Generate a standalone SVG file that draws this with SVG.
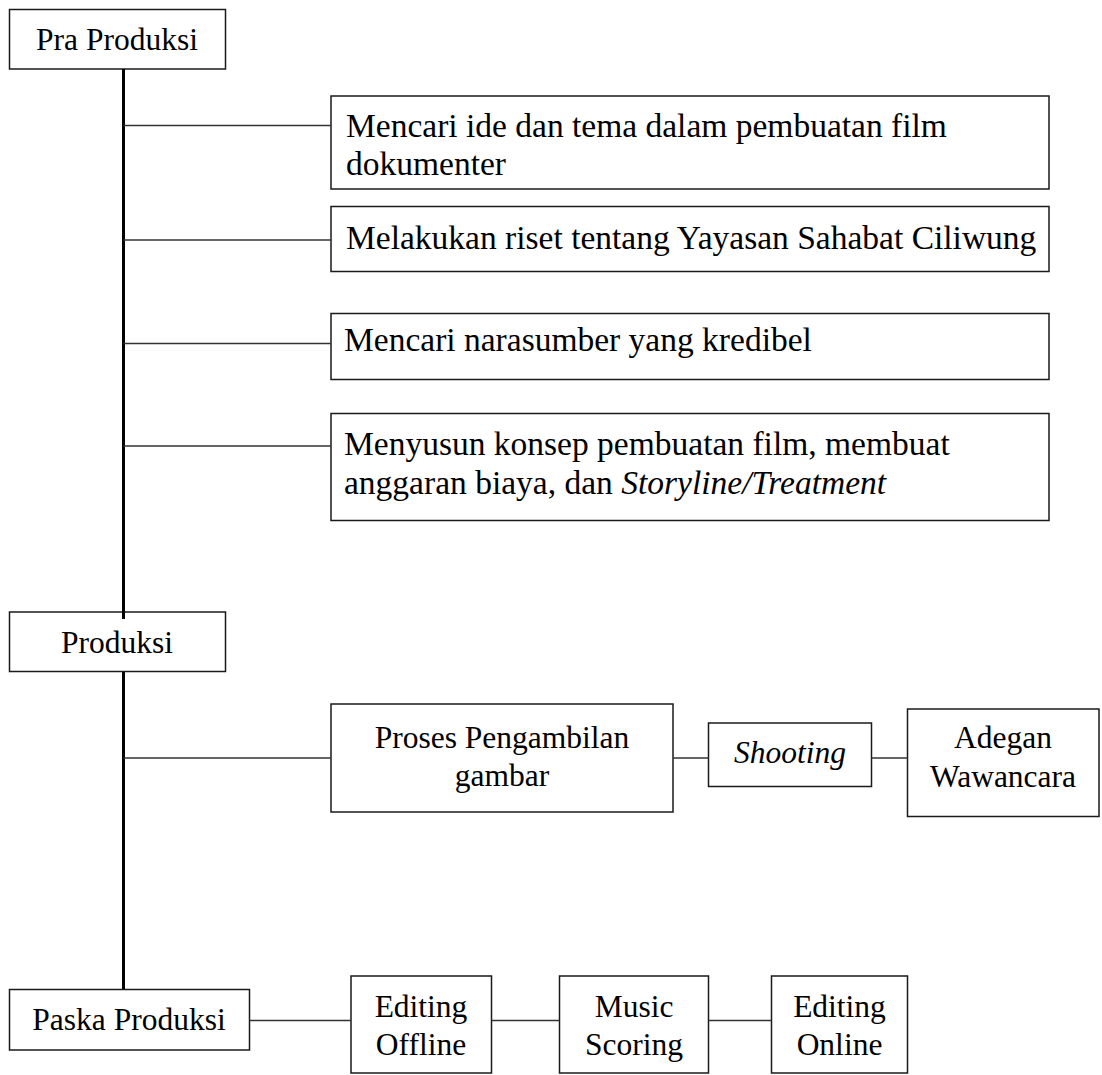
<svg xmlns="http://www.w3.org/2000/svg" width="1102" height="1075" viewBox="0 0 1102 1075">
  <style>
    .box { fill: #ffffff; stroke: #1a1a1a; stroke-width: 1.5; }
    .link { fill: none; stroke: #333333; stroke-width: 1.5; }
    .trunk { fill: none; stroke: #000000; stroke-width: 3; }
    text { font-family: "Liberation Serif", "Times New Roman", serif; font-size: 31.5px; fill: #000000; }
    .task { font-size: 33.5px; }
    .c { text-anchor: middle; }
    .i { font-style: italic; }
  </style>
  <rect width="1102" height="1075" fill="#ffffff"/>

  <!-- stage headers -->
  <g id="pra-produksi">
    <rect class="box" x="9.5" y="9.5" width="216" height="59.5"/>
    <text class="c" x="117" y="50">Pra Produksi</text>
  </g>
  <g id="produksi">
    <rect class="box" x="9.5" y="612" width="216" height="59.5"/>
    <text class="c" x="117" y="653">Produksi</text>
  </g>
  <g id="paska-produksi">
    <rect class="box" x="9.5" y="989.5" width="240" height="60.5"/>
    <text class="c" x="129" y="1030">Paska Produksi</text>
  </g>

  <!-- pre-production tasks -->
  <g id="ide-tema">
    <rect class="box" x="331" y="96" width="718" height="93"/>
    <text class="task" x="346" y="137">Mencari ide dan tema dalam pembuatan film</text>
    <text class="task" x="346" y="175">dokumenter</text>
  </g>
  <g id="riset">
    <rect class="box" x="331" y="206.5" width="718" height="65"/>
    <text class="task" x="346" y="249">Melakukan riset tentang Yayasan Sahabat Ciliwung</text>
  </g>
  <g id="narasumber">
    <rect class="box" x="331" y="313.5" width="718" height="66"/>
    <text class="task" x="344" y="351">Mencari narasumber yang kredibel</text>
  </g>
  <g id="konsep">
    <rect class="box" x="331" y="413.5" width="718" height="107"/>
    <text class="task" x="344" y="455">Menyusun konsep pembuatan film, membuat</text>
    <text class="task" x="344" y="494">anggaran biaya, dan <tspan class="i">Storyline/Treatment</tspan></text>
  </g>

  <!-- production chain -->
  <g id="pengambilan-gambar">
    <rect class="box" x="331" y="704" width="342" height="108"/>
    <text class="c" x="502" y="748">Proses Pengambilan</text>
    <text class="c" x="502" y="786">gambar</text>
  </g>
  <g id="shooting">
    <rect class="box" x="708.5" y="723" width="163" height="63.5"/>
    <text class="c i" x="790" y="763">Shooting</text>
  </g>
  <g id="adegan-wawancara">
    <rect class="box" x="907.5" y="709" width="191.5" height="107.5"/>
    <text class="c" x="1003" y="748">Adegan</text>
    <text class="c" x="1003" y="787">Wawancara</text>
  </g>

  <!-- post-production chain -->
  <g id="editing-offline">
    <rect class="box" x="351" y="976" width="140.5" height="97"/>
    <text class="c" x="421" y="1017">Editing</text>
    <text class="c" x="421" y="1055">Offline</text>
  </g>
  <g id="music-scoring">
    <rect class="box" x="559.5" y="976" width="149" height="97"/>
    <text class="c" x="634" y="1017">Music</text>
    <text class="c" x="634" y="1055">Scoring</text>
  </g>
  <g id="editing-online">
    <rect class="box" x="771.5" y="976" width="136" height="97"/>
    <text class="c" x="839.5" y="1017">Editing</text>
    <text class="c" x="839.5" y="1055">Online</text>
  </g>

  <!-- connectors -->
  <g id="connectors">
    <line class="trunk" x1="123.5" y1="69" x2="123.5" y2="619"/>
    <line class="trunk" x1="123.5" y1="672" x2="123.5" y2="989"/>
    <line class="link" x1="123.5" y1="125.5" x2="331" y2="125.5"/>
    <line class="link" x1="123.5" y1="240" x2="331" y2="240"/>
    <line class="link" x1="123.5" y1="343.5" x2="331" y2="343.5"/>
    <line class="link" x1="123.5" y1="446" x2="331" y2="446"/>
    <line class="link" x1="123.5" y1="758" x2="331" y2="758"/>
    <line class="link" x1="673" y1="758" x2="708.5" y2="758"/>
    <line class="link" x1="871.5" y1="758" x2="907.5" y2="758"/>
    <line class="link" x1="249.5" y1="1020.5" x2="351" y2="1020.5"/>
    <line class="link" x1="491.5" y1="1020.5" x2="559.5" y2="1020.5"/>
    <line class="link" x1="708.5" y1="1020.5" x2="771.5" y2="1020.5"/>
  </g>
</svg>
